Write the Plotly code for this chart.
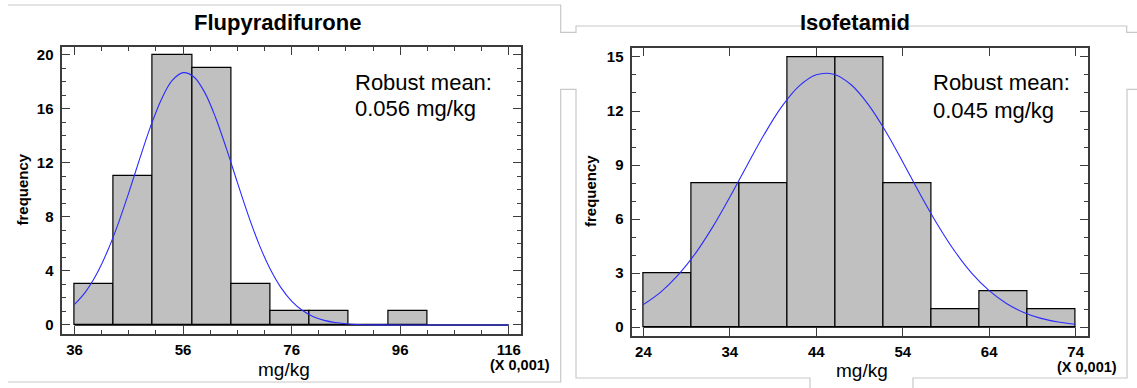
import plotly.graph_objects as go

W, H = 1137, 388

# Flupyradifurone: histogram counts (x axis in mg/kg x 0.001)
flu_bin_start = 36.0
flu_bin_width = 65.0 / 9
flu_counts = [3, 11, 20, 19, 3, 1, 1, 0, 1]
# fitted density curve, read at these x positions
flu_fit_x = [36, 38, 40, 42, 44, 46, 48, 50, 52, 54, 56, 58, 60, 62, 64, 66, 68,
             70, 72, 74, 76, 78, 80, 82, 84, 86, 88, 92, 100, 108, 116]
flu_fit_y = [1.53, 2.44, 3.72, 5.40, 7.45, 9.81, 12.30, 14.69, 16.71, 18.11, 18.69,
             18.37, 17.21, 15.35, 13.04, 10.56, 8.14, 5.97, 4.18, 2.79, 1.77, 1.07,
             0.61, 0.34, 0.18, 0.09, 0.04, 0.01, 0.0, 0.0, 0.0]
flu_label = "0.056 mg/kg"

# Isofetamid: histogram counts (x axis in mg/kg x 0.001)
iso_bin_start = 24.0
iso_bin_width = 50.0 / 9
iso_counts = [3, 8, 8, 15, 15, 8, 1, 2, 1]
iso_fit_x = [24, 26, 28, 30, 32, 34, 36, 38, 40, 42, 44, 46, 48, 50, 52, 54, 56,
             58, 60, 62, 64, 66, 68, 70, 72, 74]
iso_fit_y = [1.25, 1.94, 2.88, 4.08, 5.55, 7.22, 8.99, 10.72, 12.24, 13.38, 14.01,
             14.04, 13.47, 12.37, 10.89, 9.17, 7.39, 5.71, 4.22, 2.98, 2.02, 1.31,
             0.81, 0.48, 0.28, 0.15]
iso_label = "0.045 mg/kg"

FONT = "Liberation Sans, Arial, sans-serif"
FRAME = "#3c3c3c"
BAR_FILL = "#c0c0c0"
CURVE = "#2b2bff"
DECOR = "#c8c8c8"


def px(x, y):
    """pixel position -> paper coordinates (margins are zero)"""
    return x / W, 1 - y / H


def add_panel(fig, xa, ya, start, width, counts, fx, fy):
    centers = [start + width * (i + 0.5) for i in range(len(counts))]
    fig.add_trace(go.Bar(
        x=centers, y=counts, width=width,
        marker=dict(color=BAR_FILL, line=dict(color="black", width=1.2)),
        xaxis=xa, yaxis=ya, showlegend=False, hoverinfo="skip"))
    fig.add_trace(go.Scatter(
        x=[fx[0], fx[-1]], y=[0, 0], mode="lines",
        line=dict(color="black", width=1.6),
        xaxis=xa, yaxis=ya, showlegend=False, hoverinfo="skip"))
    fig.add_trace(go.Scatter(
        x=fx, y=fy, mode="lines", line=dict(color=CURVE, width=1.1, shape="spline"),
        xaxis=xa, yaxis=ya, showlegend=False, hoverinfo="skip"))


fig = go.Figure()
add_panel(fig, "x", "y", flu_bin_start, flu_bin_width, flu_counts, flu_fit_x, flu_fit_y)
add_panel(fig, "x2", "y2", iso_bin_start, iso_bin_width, iso_counts, iso_fit_x, iso_fit_y)

tick_font = dict(family=FONT, size=15, color="black", weight="bold")


def axis(domain, rng, tick0, dtick, minor_dtick, standoff):
    a = dict(
        domain=domain, range=rng, tick0=tick0, dtick=dtick,
        showline=True, linecolor=FRAME, linewidth=2, mirror="allticks",
        ticks="inside", ticklen=8, tickwidth=1.3, tickcolor=FRAME,
        showgrid=False, zeroline=False, tickfont=tick_font,
        ticklabelstandoff=standoff, fixedrange=True,
    )
    if minor_dtick:
        a["minor"] = dict(ticks="inside", ticklen=4, tickwidth=1.2, tickcolor=FRAME,
                          dtick=minor_dtick, tick0=tick0, showgrid=False)
    return a


fig.update_layout(
    width=W, height=H, autosize=False,
    margin=dict(l=0, r=0, t=0, b=0, pad=0),
    paper_bgcolor="white", plot_bgcolor="white",
    bargap=0,
    xaxis=axis([61.5 / W, 520.7 / W], [33.6, 118.2], 36, 20, 5, 1),
    yaxis=axis([1 - 334 / H, 1 - 47 / H], [-0.667, 20.59], 0, 4, 1, 3),
    xaxis2=axis([631.5 / W, 1087.9 / W], [22.62, 75.42], 24, 10, None, 1),
    yaxis2=axis([1 - 336 / H, 1 - 48.3 / H], [-0.5, 15.483], 0, 3, 1, 3),
)
fig.update_layout(yaxis2=dict(anchor="x2"), xaxis2=dict(anchor="y2"))


def note(text, x, y, size, bold=False, xanchor="center", angle=0):
    xp, yp = px(x, y)
    fig.add_annotation(
        text=text, x=xp, y=yp, xref="paper", yref="paper",
        xanchor=xanchor, yanchor="middle", showarrow=False, textangle=angle,
        font=dict(family=FONT, size=size, color="black",
                  weight="bold" if bold else "normal"))


# panel titles
note("Flupyradifurone", 277, 22, 22, bold=True)
note("Isofetamid", 855, 22, 22, bold=True)
# robust mean boxes
note("Robust mean:", 353, 82, 22, xanchor="left")
note(flu_label, 353, 108, 22, xanchor="left")
note("Robust mean:", 931, 82, 22, xanchor="left")
note(iso_label, 931, 110, 22, xanchor="left")
# axis titles
note("frequency", 21.5, 190, 15, bold=True, angle=-90)
note("frequency", 590, 191, 15, bold=True, angle=-90)
note("mg/kg", 284, 369, 19)
note("mg/kg", 862, 370, 19)
note("(X 0,001)", 519.6, 365, 14.5, bold=True)
note("(X 0,001)", 1087, 367, 14.5, bold=True)

# light grey panel outlines
segments = [
    [(8, 5), (560.7, 5), (560.7, 32.3), (576, 32.3), (576, 26), (1126.7, 26),
     (1126.7, 32.3), (1137, 32.3)],
    [(8, 382), (560.7, 382), (560.7, 89.3), (576, 89.3), (576, 378), (810, 378), (810, 388)],
    [(913, 388), (913, 378), (1127, 378), (1127, 89.3), (1137, 89.3)],
]
for seg in segments:
    path = ""
    for i, (x, y) in enumerate(seg):
        xp, yp = px(x, y)
        path += ("M" if i == 0 else "L") + f"{xp:.5f},{yp:.5f} "
    fig.add_shape(type="path", path=path.strip(), xref="paper", yref="paper",
                  line=dict(color=DECOR, width=1.2), layer="below")

fig.write_html("out.html")
